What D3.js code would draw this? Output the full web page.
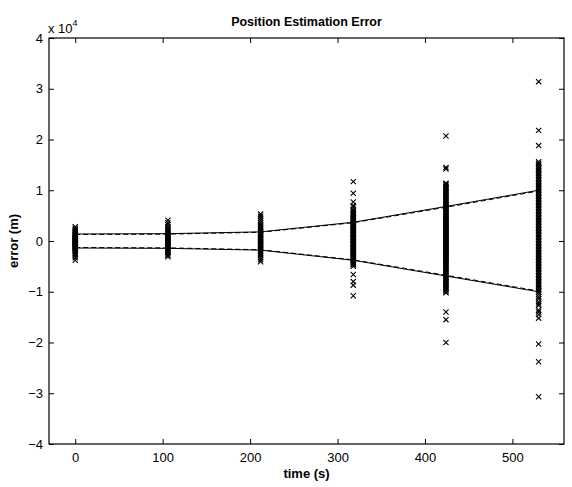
<!DOCTYPE html>
<html lang="en">
<head>
<meta charset="utf-8">
<title>Position Estimation Error</title>
<script src="https://cdn.jsdelivr.net/npm/d3@7"></script>
<style>
  body { margin: 0; background: #fff; }
  text { font-family: "Liberation Sans", Arial, sans-serif; }
</style>
</head>
<body>
<script>
// sample times (s)
var times = [0, 106, 212, 318, 424, 530];

// error samples at each time, in units of 1e4 m
var errAt0 = [0.28, 0.25, 0.22, 0.2, 0.18, 0.16, 0.15, 0.13, 0.12, 0.1, 0.09, 0.08, 0.07, 0.06, 0.05, 0.04, 0.03, 0.02, 0.01, 0, -0.01, -0.02, -0.03, -0.04, -0.05, -0.06, -0.07, -0.08, -0.09, -0.1, -0.11, -0.12, -0.13, -0.14, -0.16, -0.17, -0.19, -0.21, -0.23, -0.26, -0.29, -0.33, -0.38];
var errAt106 = [0.41, 0.36, 0.32, 0.28, 0.25, 0.22, 0.2, 0.17, 0.15, 0.13, 0.11, 0.09, 0.07, 0.05, 0.04, 0.02, 0.01, -0.01, -0.02, -0.04, -0.05, -0.07, -0.09, -0.1, -0.12, -0.14, -0.16, -0.18, -0.2, -0.22, -0.25, -0.28, -0.31];
var errAt212 = [0.53, 0.49, 0.45, 0.41, 0.37, 0.33, 0.3, 0.27, 0.24, 0.21, 0.18, 0.16, 0.13, 0.11, 0.08, 0.06, 0.04, 0.02, 0, -0.02, -0.04, -0.06, -0.08, -0.1, -0.12, -0.15, -0.17, -0.2, -0.23, -0.26, -0.29, -0.33, -0.37, -0.41];
var errAt318 = [1.17, 0.94, 0.77, 0.7, 0.67, 0.62, 0.6, 0.57, 0.55, 0.53, 0.51, 0.49, 0.47, 0.45, 0.44, 0.42, 0.4, 0.38, 0.36, 0.34, 0.33, 0.31, 0.3, 0.28, 0.27, 0.25, 0.24, 0.22, 0.21, 0.19, 0.18, 0.16, 0.15, 0.13, 0.12, 0.1, 0.08, 0.07, 0.05, 0.04, 0.02, 0.01, -0.01, -0.02, -0.04, -0.05, -0.07, -0.08, -0.1, -0.12, -0.13, -0.15, -0.16, -0.18, -0.19, -0.21, -0.22, -0.24, -0.25, -0.27, -0.28, -0.3, -0.32, -0.34, -0.36, -0.38, -0.4, -0.42, -0.44, -0.46, -0.47, -0.5, -0.66, -0.8, -0.87, -1.08];
var errAt424 = [2.07, 1.45, 1.42, 1.14, 1.12, 1.1, 1.07, 1.05, 1.02, 1.0, 0.97, 0.95, 0.92, 0.9, 0.87, 0.85, 0.82, 0.8, 0.77, 0.75, 0.72, 0.7, 0.68, 0.66, 0.64, 0.62, 0.6, 0.57, 0.55, 0.53, 0.51, 0.49, 0.47, 0.45, 0.43, 0.41, 0.39, 0.37, 0.35, 0.33, 0.31, 0.29, 0.27, 0.25, 0.23, 0.21, 0.19, 0.17, 0.15, 0.13, 0.11, 0.09, 0.07, 0.05, 0.03, 0.01, -0.01, -0.03, -0.05, -0.07, -0.09, -0.11, -0.13, -0.15, -0.17, -0.19, -0.21, -0.23, -0.25, -0.27, -0.29, -0.31, -0.33, -0.35, -0.37, -0.39, -0.41, -0.43, -0.45, -0.47, -0.5, -0.52, -0.55, -0.57, -0.6, -0.62, -0.65, -0.67, -0.7, -0.72, -0.75, -0.77, -0.8, -0.82, -0.85, -0.87, -0.9, -0.92, -0.95, -0.97, -1.0, -1.02, -1.4, -1.55, -2.0];
var errAt530 = [3.14, 2.18, 1.88, 1.56, 1.53, 1.5, 1.47, 1.44, 1.42, 1.39, 1.36, 1.33, 1.3, 1.27, 1.24, 1.21, 1.18, 1.15, 1.12, 1.09, 1.06, 1.03, 1.0, 0.97, 0.94, 0.91, 0.88, 0.85, 0.82, 0.79, 0.76, 0.73, 0.7, 0.67, 0.64, 0.61, 0.58, 0.55, 0.52, 0.49, 0.46, 0.43, 0.4, 0.37, 0.34, 0.31, 0.28, 0.25, 0.22, 0.19, 0.16, 0.13, 0.1, 0.07, 0.04, 0.01, -0.02, -0.05, -0.08, -0.11, -0.14, -0.17, -0.2, -0.23, -0.26, -0.29, -0.32, -0.35, -0.38, -0.41, -0.44, -0.47, -0.5, -0.53, -0.56, -0.59, -0.62, -0.65, -0.68, -0.71, -0.74, -0.77, -0.8, -0.83, -0.86, -0.89, -0.92, -0.95, -0.98, -1.01, -1.05, -1.1, -1.14, -1.2, -1.24, -1.27, -1.36, -1.4, -1.45, -1.52, -2.03, -2.38, -3.07];
var errSamples = [errAt0, errAt106, errAt212, errAt318, errAt424, errAt530];

// error bounds (1e4 m): predicted (solid) and actual (dashed)
var upperSolid = [0.138, 0.145, 0.18, 0.37, 0.68, 1.0];
var lowerSolid = [-0.138, -0.145, -0.18, -0.38, -0.69, -1.0];
var upperDashed = [0.128, 0.135, 0.172, 0.36, 0.665, 0.985];
var lowerDashed = [-0.128, -0.135, -0.172, -0.37, -0.675, -0.985];

var xTicks = [0, 100, 200, 300, 400, 500];
var yTicks = [-4, -3, -2, -1, 0, 1, 2, 3, 4];

var W = 572, H = 487;
var pL = 49, pR = 564, pT = 38, pB = 444;

var svg = d3.select("body").append("svg")
    .attr("width", W)
    .attr("height", H);

var x = d3.scaleLinear().domain([-30, 559]).range([pL, pR]);
var y = d3.scaleLinear().domain([-4, 4]).range([pB, pT]);

var tickLen = 5;

// axes with inward ticks, MATLAB style
var gx = svg.append("g").attr("transform", "translate(0," + pB + ")")
    .call(d3.axisBottom(x).tickValues(xTicks).tickSize(-tickLen).tickPadding(9).tickFormat(d3.format("d")));
var gxt = svg.append("g").attr("transform", "translate(0," + pT + ")")
    .call(d3.axisTop(x).tickValues(xTicks).tickSize(-tickLen).tickFormat(""));
var gy = svg.append("g").attr("transform", "translate(" + pL + ",0)")
    .call(d3.axisLeft(y).tickValues(yTicks).tickSize(-tickLen).tickPadding(6)
      .tickFormat(function(d) { return d < 0 ? "\u2212" + (-d) : d; }));
var gyr = svg.append("g").attr("transform", "translate(" + pR + ",0)")
    .call(d3.axisRight(y).tickValues(yTicks).tickSize(-tickLen).tickFormat(""));

[gx, gxt, gy, gyr].forEach(function(g) {
  g.select(".domain").remove();
  g.selectAll(".tick line").attr("stroke", "#000").attr("stroke-width", 1);
  g.selectAll(".tick text").attr("font-size", 13).attr("fill", "#000")
    .attr("font-family", "Liberation Sans, Arial, sans-serif");
});

svg.append("rect")
    .attr("x", pL).attr("y", pT)
    .attr("width", pR - pL).attr("height", pB - pT)
    .attr("fill", "none").attr("stroke", "#000").attr("stroke-width", 1.2);

// bound lines
var line = d3.line()
    .x(function(d, i) { return x(times[i]); })
    .y(function(d) { return y(d); });

[upperSolid, lowerSolid].forEach(function(s) {
  svg.append("path").datum(s).attr("d", line)
     .attr("fill", "none").attr("stroke", "#000").attr("stroke-width", 1);
});
[upperDashed, lowerDashed].forEach(function(s) {
  svg.append("path").datum(s).attr("d", line)
     .attr("fill", "none").attr("stroke", "#000").attr("stroke-width", 1)
     .attr("stroke-dasharray", "5,3");
});

// x markers
var pts = [];
errSamples.forEach(function(arr, i) {
  arr.forEach(function(v) { pts.push({ t: times[i], e: v }); });
});
var m = 2.6;
svg.append("g").selectAll("path")
   .data(pts)
   .enter()
   .append("path")
   .attr("d", function(d) {
     var cx = x(d.t), cy = y(d.e);
     return "M" + (cx - m) + "," + (cy - m) + "L" + (cx + m) + "," + (cy + m) +
            "M" + (cx - m) + "," + (cy + m) + "L" + (cx + m) + "," + (cy - m);
   })
   .attr("stroke", "#000").attr("stroke-width", 1.1).attr("fill", "none");

// exponent label
var ex = svg.append("text").attr("x", pL - 1).attr("y", 33)
    .attr("font-size", 13).attr("fill", "#000");
ex.append("tspan").text("x 10");
ex.append("tspan").attr("dy", -7).attr("font-size", 9).text("4");

// titles
svg.append("text").attr("x", (pL + pR) / 2).attr("y", 26)
   .attr("text-anchor", "middle").attr("font-size", 12.5).attr("font-weight", "bold")
   .text("Position Estimation Error");
svg.append("text").attr("x", (pL + pR) / 2).attr("y", 478)
   .attr("text-anchor", "middle").attr("font-size", 13).attr("font-weight", "bold")
   .text("time (s)");
svg.append("text")
   .attr("transform", "translate(18," + ((pT + pB) / 2) + ") rotate(-90)")
   .attr("text-anchor", "middle").attr("font-size", 13).attr("font-weight", "bold")
   .text("error (m)");
</script>
</body>
</html>
